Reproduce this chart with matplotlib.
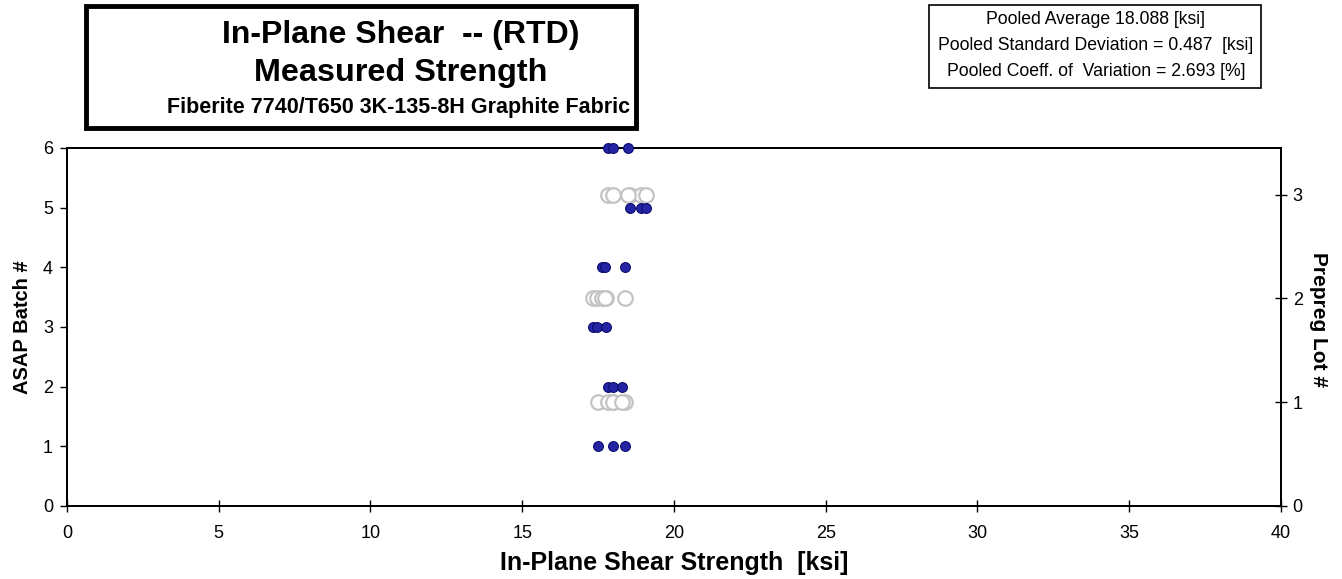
import matplotlib
matplotlib.use('Agg')
import matplotlib.pyplot as plt
from matplotlib.patches import Rectangle

plt.rcParams['font.family'] = ['Liberation Sans', 'DejaVu Sans']

# strength values [ksi] per ASAP batch (3 specimens each)
batches = [1, 2, 3, 4, 5, 6]
batch_strength = [
    [17.50, 17.98, 18.39],
    [17.84, 18.00, 18.28],
    [17.34, 17.47, 17.75],
    [17.62, 17.73, 18.39],
    [18.55, 18.93, 19.08],
    [17.84, 18.00, 18.49],
]
# prepreg lot -> batches in that lot
lots = [1, 2, 3]
lot_batches = [[1, 2], [3, 4], [5, 6]]

x_ticks = [0, 5, 10, 15, 20, 25, 30, 35, 40]
left_ticks = [0, 1, 2, 3, 4, 5, 6]
right_ticks = [0, 1, 2, 3]

fig = plt.figure(figsize=(13.42, 5.79), dpi=100)
ax = fig.add_axes([0.0499, 0.1261, 0.9046, 0.6183])
ax2 = ax.twinx()

# grey open circles: all values of a lot on the right axis
for lot, bl in zip(lots, lot_batches):
    xs = []
    for b in bl:
        xs += batch_strength[b - 1]
    ax2.scatter(xs, [lot] * len(xs), s=110, facecolors='white', edgecolors='#C4C4C4',
                linewidths=1.6, zorder=2, clip_on=False)

# blue filled points: each batch on the left axis
for b, vals in zip(batches, batch_strength):
    ax.scatter(vals, [b] * len(vals), s=50, c='#2424A4', edgecolors='#0C0C70',
               linewidths=0.8, zorder=3, clip_on=False)

ax.set_zorder(ax2.get_zorder() + 1)
ax.patch.set_visible(False)

ax.set_xlim(0, 40)
ax.set_ylim(0, 6)
ax2.set_ylim(0, 3.45)
ax.set_xticks(x_ticks)
ax.set_yticks(left_ticks)
ax2.set_yticks(right_ticks)

for a in (ax, ax2):
    for sp in a.spines.values():
        sp.set_color('black')
        sp.set_linewidth(1.3)
ax.tick_params(axis='y', labelsize=13, length=5, width=1, direction='out', pad=5, colors='black')
ax.tick_params(axis='x', labelsize=13, length=8, width=1, direction='inout', pad=10, colors='black')
ax2.tick_params(axis='y', labelsize=13, length=9, width=1, direction='inout', pad=4, colors='black')

ax.set_xlabel('In-Plane Shear Strength  [ksi]', fontsize=18, fontweight='bold', labelpad=6)
ax.set_ylabel('ASAP Batch #', fontsize=14.5, fontweight='bold', labelpad=8)
ax2.set_ylabel('Prepreg Lot #', fontsize=15, fontweight='bold', rotation=-90, labelpad=18)
ax2.yaxis.label.set_y(0.52)

# title box
fig.patches.append(Rectangle((86 / 1342, 1 - 128 / 579), 550 / 1342, 122 / 579,
                             transform=fig.transFigure, fill=False, edgecolor='black',
                             linewidth=3.5))
fig.text(401 / 1342, 1 - 35 / 579, 'In-Plane Shear  -- (RTD)', fontsize=23, fontweight='bold',
         ha='center', va='center')
fig.text(401 / 1342, 1 - 73 / 579, 'Measured Strength', fontsize=23.3, fontweight='bold',
         ha='center', va='center')
fig.text(399 / 1342, 1 - 107 / 579, 'Fiberite 7740/T650 3K-135-8H Graphite Fabric', fontsize=15.5,
         fontweight='bold', ha='center', va='center')

# stats box
fig.patches.append(Rectangle((929 / 1342, 1 - 88 / 579), 332 / 1342, 83 / 579,
                             transform=fig.transFigure, fill=False, edgecolor='black',
                             linewidth=1.2))
stats = ['Pooled Average 18.088 [ksi]',
         'Pooled Standard Deviation = 0.487  [ksi]',
         'Pooled Coeff. of  Variation = 2.693 [%]']
for i, s in enumerate(stats):
    fig.text(1096 / 1342, 1 - (19 + 26 * i) / 579, s, fontsize=12.7, ha='center', va='center')

fig.savefig('out.png', dpi=100)
